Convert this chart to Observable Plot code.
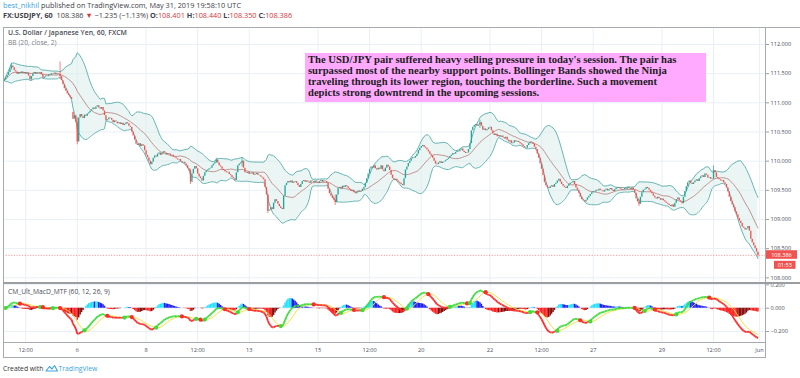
<!DOCTYPE html>
<html>
<head>
<meta charset="utf-8">
<script src="https://cdn.jsdelivr.net/npm/d3@7"></script>
<script src="https://cdn.jsdelivr.net/npm/@observablehq/plot@0.6"></script>
<style>
html,body{margin:0;padding:0;background:#fff;}
#wrap{position:relative;width:800px;height:378px;overflow:hidden;background:#fff;font-family:"Open Sans",sans-serif;color:#3d4048;}
.a{position:absolute;white-space:nowrap;line-height:1;}
.ln{position:absolute;background:#a7aaaf;}
.r{color:#d3383c;}
#main,#macd{position:absolute;left:0;}
#main{top:27px;}
#macd{top:283px;}
svg{overflow:visible;}
#note{position:absolute;left:305px;top:53px;width:395px;height:47px;background:#ffaaff;padding:1px 3px;font-family:"Liberation Serif",serif;font-weight:bold;font-size:10.6px;line-height:11.1px;color:#1c1c1c;white-space:nowrap;}
</style>
</head>
<body>
<div id="wrap">
  <div id="main"></div>
  <div id="macd"></div>
  <div class="ln" style="left:3px;top:27px;width:797px;height:1px;"></div>
  <div class="ln" style="left:3px;top:27px;width:1px;height:331px;"></div>
  <div class="ln" style="left:765px;top:27px;width:1px;height:331px;"></div>
  <div class="ln" style="left:3px;top:282px;width:797px;height:1.5px;background:#9a9da2;"></div>
  <div class="ln" style="left:3px;top:342px;width:762px;height:1px;"></div>
  <div class="ln" style="left:3px;top:357px;width:762px;height:1px;"></div>

  <div class="a" style="left:3px;top:2px;font-size:7.3px;"><span style="color:#3aa3df">best_nikhil</span> published on TradingView.com, May 31, 2019 19:58:10 UTC</div>
  <div class="a" style="left:3px;top:12px;font-size:7.3px;"><b>FX:USDJPY, 60</b>&nbsp; 108.386 <span class="r">&#9660;</span> &#8722;1.235 (&#8722;1.13%) <b>O:</b><span class="r">108.401</span> <b>H:</b><span class="r">108.440</span> <b>L:</b><span class="r">108.350</span> <b>C:</b><span class="r">108.386</span></div>
  <div class="a" style="left:8px;top:30px;font-size:6.9px;font-weight:600;color:#4a4d55;">U.S. Dollar / Japanese Yen, 60, FXCM</div>
  <div class="a" style="left:8px;top:39.5px;font-size:6.7px;color:#7a7d85;">BB (20, close, 2)</div>
  <div class="a" style="left:8px;top:288.5px;font-size:6.7px;color:#4a4d55;">CM_Ult_MacD_MTF (60, 12, 26, 9)</div>
  <div id="note">The USD/JPY pair suffered heavy selling pressure in today's session. The pair has<br>surpassed most of the nearby support points. Bollinger Bands showed the Ninja<br>traveling through its lower region, touching the borderline. Such a movement<br>depicts strong downtrend in the upcoming sessions.</div>
  <div class="a" style="left:3px;top:365.5px;font-size:6.8px;color:#333;">Created with</div>
  <svg class="a" style="left:45px;top:364px;" width="13" height="8" viewBox="0 0 13 8">
    <path d="M1 7 L4.5 2.5 L7 5 L9.5 1.5 L12.5 7 Z" fill="none" stroke="#3aa3df" stroke-width="1.1" stroke-linejoin="round"/>
  </svg>
  <div class="a" style="left:58.5px;top:365.5px;font-size:6.8px;color:#3aa3df;">TradingView</div>
</div>
<script>
// hourly closes, FX:USDJPY 60, bar 0 = May 2 21:00 UTC ... bar 526 = May 31 19:00 UTC
const closes = [
111.39,111.43,111.47,111.52,111.58,111.63,111.60,111.55,111.53,111.49,111.52,111.50,
111.53,111.50,111.52,111.49,111.51,111.46,111.39,111.45,111.50,111.52,111.49,111.51,
111.50,111.52,111.48,111.42,111.44,111.46,111.45,111.48,111.47,111.50,111.49,111.51,
111.48,111.50,111.49,111.45,111.38,111.31,111.24,111.20,111.15,111.12,111.09,111.06,
110.72,110.78,110.66,110.33,110.74,110.80,110.76,110.73,110.79,110.77,110.81,110.83,
110.86,110.88,110.91,110.89,110.93,110.95,110.91,110.89,110.92,110.86,110.78,110.69,
110.71,110.74,110.73,110.70,110.66,110.69,110.67,110.64,110.66,110.63,110.65,110.61,
110.63,110.66,110.64,110.60,110.58,110.50,110.43,110.36,110.29,110.27,110.30,110.25,
110.28,110.26,110.18,110.10,110.06,110.00,109.94,109.98,110.05,110.09,110.07,110.12,
110.14,110.10,110.13,110.16,110.14,110.11,110.13,110.12,110.09,110.10,110.07,110.06,
110.04,110.02,110.03,109.99,109.97,109.98,109.95,109.92,109.87,109.83,109.64,109.78,
109.86,109.91,109.87,109.78,109.73,109.70,109.66,109.74,109.80,109.83,109.85,109.87,
109.88,109.92,109.95,109.98,110.02,109.97,109.92,109.90,109.86,109.84,109.82,109.80,
109.81,109.77,109.75,109.72,109.70,109.67,109.80,109.92,109.95,109.97,110.00,109.88,
109.80,109.79,109.81,109.77,109.78,109.80,109.76,109.77,109.79,109.76,109.75,109.73,
109.71,109.68,109.55,109.42,109.14,109.16,109.20,109.17,109.28,109.34,109.31,109.26,
109.22,109.19,109.17,109.40,109.58,109.62,109.65,109.63,109.66,109.62,109.64,109.65,
109.62,109.58,109.55,109.60,109.65,109.67,109.64,109.66,109.64,109.62,109.66,109.65,
109.63,109.66,109.64,109.62,109.65,109.67,109.64,109.66,109.65,109.62,109.52,109.44,
109.40,109.36,109.33,109.29,109.42,109.53,109.55,109.52,109.57,109.55,109.58,109.56,
109.53,109.51,109.48,109.50,109.46,109.44,109.47,109.49,109.47,109.48,109.52,109.55,
109.62,109.70,109.78,109.86,109.90,109.88,109.92,109.87,109.85,109.88,109.86,109.92,
109.85,109.82,109.88,109.93,109.90,109.84,109.76,109.70,109.67,109.69,109.66,109.64,
109.62,109.60,109.58,109.70,109.85,109.90,109.96,110.00,110.04,110.06,110.05,110.08,
110.12,110.18,110.22,110.25,110.27,110.24,110.22,110.19,110.16,110.12,110.09,110.05,
110.00,109.95,109.94,109.97,109.99,109.96,109.98,109.99,110.01,110.03,110.05,110.08,
110.10,110.13,110.12,110.15,110.17,110.16,110.19,110.21,110.17,110.15,110.13,110.14,
110.20,110.30,110.52,110.58,110.61,110.63,110.60,110.62,110.66,110.60,110.53,110.55,
110.52,110.54,110.57,110.58,110.52,110.47,110.44,110.46,110.42,110.44,110.41,110.43,
110.40,110.38,110.41,110.36,110.33,110.35,110.30,110.31,110.35,110.33,110.34,110.32,
110.30,110.28,110.25,110.23,110.22,110.27,110.30,110.33,110.32,110.29,110.24,110.20,
110.12,110.05,109.95,109.86,109.75,109.63,109.58,109.55,109.53,109.56,109.58,109.55,
109.60,109.62,109.66,109.69,109.64,109.60,109.57,109.55,109.53,109.57,109.60,109.62,
109.63,109.65,109.60,109.54,109.50,109.45,109.38,109.34,109.32,109.30,109.33,109.37,
109.40,109.43,109.46,109.48,109.47,109.50,109.49,109.52,109.50,109.49,109.47,109.50,
109.52,109.49,109.51,109.53,109.50,109.48,109.51,109.53,109.55,109.54,109.52,109.50,
109.51,109.53,109.52,109.55,109.53,109.51,109.54,109.50,109.45,109.35,109.30,109.26,
109.38,109.46,109.50,109.52,109.55,109.53,109.50,109.47,109.44,109.40,109.37,109.35,
109.38,109.36,109.33,109.35,109.32,109.30,109.28,109.26,109.24,109.22,109.25,109.21,
109.28,109.34,109.37,109.32,109.30,109.27,109.38,109.48,109.56,109.63,109.66,109.62,
109.60,109.63,109.66,109.68,109.65,109.70,109.73,109.75,109.72,109.78,109.76,109.71,
109.72,109.69,109.70,109.84,109.80,109.72,109.70,109.68,109.66,109.67,109.63,109.60,
109.54,109.47,109.38,109.31,109.25,109.20,109.13,109.08,109.02,108.97,108.93,108.87,
108.85,108.82,108.84,108.88,108.80,108.66,108.60,108.55,108.50,108.44,108.386
];
const firstOpen = 111.36;
const openOverrides = [[48, 110.84]];            // Sunday gap open
const wicks = [                                   // [bar, low, high]
  [5,111.56,111.68],[39,111.40,111.70],[51,110.28,110.74],[130,109.60,109.86],
  [148,109.96,110.05],[166,109.90,110.05],[184,109.10,109.42],[231,109.24,109.42],
  [332,110.56,110.70],[443,109.22,109.34],[495,109.68,109.92],[526,108.35,108.44]
];
const timeTickBars   = [15, 51, 99, 135, 171, 219, 255, 291, 339, 375, 411, 459, 495, 527];
const timeTickLabels = ["12:00","6","8","12:00","13","15","12:00","20","22","12:00","27","29","12:00","Jun"];
const priceTicks = [108.0, 108.5, 109.0, 109.5, 110.0, 110.5, 111.0, 111.5, 112.0];
const macdTicks  = [-0.2, 0.0, 0.2];
const countdown = "01:53";

const UP = "#26a69a", DOWN = "#ef5350";
const GRID = "#eaeff5", AXIS_TXT = "#4a4e57";
const xDomain = [-0.49, 531.26];

// candles
const bars = closes.map((c, i) => {
  const ov = openOverrides.find(d => d[0] === i);
  const o = ov ? ov[1] : (i === 0 ? firstOpen : closes[i - 1]);
  return {i, o, c, col: c >= o ? UP : DOWN};
});
const wickRows = wicks.map(([i, lo, hi]) => ({i, lo, hi, col: bars[i].col}));

// Bollinger Bands (20, close, 2)
const bb = closes.map((c, i) => {
  const w = closes.slice(Math.max(0, i - 19), i + 1);
  const m = d3.mean(w);
  const sd = Math.sqrt(d3.mean(w, v => (v - m) ** 2));
  return {i, mid: m, hi: m + 2 * sd, lo: m - 2 * sd};
});

// MACD (12, 26, 9) as CM_Ult_MacD_MTF
function ema(arr, n) {
  const k = 2 / (n + 1); let e = arr[0];
  return arr.map((v, i) => (e = i === 0 ? v : v * k + e * (1 - k)));
}
const e12 = ema(closes, 12), e26 = ema(closes, 26);
const macd = closes.map((_, i) => e12[i] - e26[i]);
const signal = macd.map((_, i) => d3.mean(macd.slice(Math.max(0, i - 8), i + 1)));
const hist = macd.map((m, i) => m - signal[i]);
const LIME = "#3ddc3a", RED = "#ff2a2a";
const ind = closes.map((_, i) => {
  const h = hist[i], p = i > 0 ? hist[i - 1] : h;
  let hc = "#999";
  if (h > 0) hc = h > p ? "#22e0ff" : "#1c1cf0";
  else hc = h > p ? "#8a0d0d" : "#ff2020";
  return {i, m: macd[i], s: signal[i], h, hc, mc: macd[i] >= signal[i] ? LIME : RED};
});
const segs = ind.slice(1).map((d, k) => ({x1: ind[k].i, y1: ind[k].m, x2: d.i, y2: d.m, c: d.mc}));
const crosses = ind.filter((d, i) => i > 0 && Math.sign(hist[i]) !== Math.sign(hist[i - 1]) && hist[i] !== 0);

const labelMap = new Map(timeTickBars.map((b, k) => [b, timeTickLabels[k]]));
const last = closes[closes.length - 1];

const main = Plot.plot({
  width: 800, height: 256, marginTop: 0, marginBottom: 0, marginLeft: 3, marginRight: 35,
  style: {fontFamily: "Open Sans", fontSize: "5.6px", background: "transparent", overflow: "visible"},
  x: {type: "linear", domain: xDomain, axis: null},
  y: {domain: [107.9026, 112.2914], axis: null},
  color: {type: "identity"},
  marks: [
    Plot.gridX(timeTickBars, {stroke: GRID, strokeOpacity: 1}),
    Plot.gridY(priceTicks, {stroke: GRID, strokeOpacity: 1}),
    Plot.areaY(bb, {x: "i", y1: "lo", y2: "hi", fill: "#dcefed", fillOpacity: 0.6}),
    Plot.lineY(bb, {x: "i", y: "hi", stroke: "#56abaa", strokeWidth: 0.9}),
    Plot.lineY(bb, {x: "i", y: "lo", stroke: "#56abaa", strokeWidth: 0.9}),
    Plot.lineY(bb, {x: "i", y: "mid", stroke: "#b07370", strokeWidth: 0.75}),
    Plot.ruleY([last], {stroke: DOWN, strokeDasharray: "1.2,1.5", strokeWidth: 0.8, strokeOpacity: 0.75}),
    Plot.ruleX(wickRows, {x: "i", y1: "lo", y2: "hi", stroke: "col", strokeWidth: 0.7}),
    Plot.ruleX(bars, {x: "i", y1: "o", y2: "c", stroke: "col", strokeWidth: 1.35}),
    Plot.axisY(priceTicks, {anchor: "right", tickFormat: d3.format(".3f"), tickSize: 3, tickPadding: 2,
      stroke: "#9a9da3", fill: AXIS_TXT, fontSize: 5.6})
  ]
});
document.getElementById("main").appendChild(main);

// last price label + countdown, placed through the y scale
{
  const py = main.scale("y").apply(last);
  const svg = d3.select(main);
  const g = svg.append("g").attr("font-family", "Open Sans").attr("font-size", 5.6);
  g.append("rect").attr("x", 766).attr("y", py - 4.6).attr("width", 31).attr("height", 8.6).attr("fill", DOWN);
  g.append("text").attr("x", 781.5).attr("y", py).attr("dy", "0.35em").attr("text-anchor", "middle").attr("fill", "#fff").text(d3.format(".3f")(last));
  g.append("rect").attr("x", 774).attr("y", py + 6).attr("width", 21.5).attr("height", 8).attr("fill", DOWN);
  g.append("text").attr("x", 784.8).attr("y", py + 10).attr("dy", "0.35em").attr("text-anchor", "middle").attr("fill", "#fff").text(countdown);
}

const macdPlot = Plot.plot({
  width: 800, height: 74, marginTop: 0, marginBottom: 15, marginLeft: 3, marginRight: 35,
  style: {fontFamily: "Open Sans", fontSize: "5.6px", background: "transparent", overflow: "visible"},
  x: {type: "linear", domain: xDomain, axis: null},
  y: {domain: [-0.2944, 0.212], axis: null},
  color: {type: "identity"},
  marks: [
    Plot.gridX(timeTickBars, {stroke: GRID, strokeOpacity: 1}),
    Plot.gridY(macdTicks, {stroke: GRID, strokeOpacity: 1}),
    Plot.ruleX(ind, {x: "i", y1: 0, y2: "h", stroke: "hc", strokeWidth: 1.5}),
    Plot.lineY(ind, {x: "i", y: "s", stroke: "#f3e23c", strokeWidth: 1}),
    Plot.link(segs, {x1: "x1", y1: "y1", x2: "x2", y2: "y2", stroke: "c", strokeWidth: 1.8}),
    Plot.dot(crosses, {x: "i", y: "s", r: 2.1, fill: "mc", stroke: "none"}),
    Plot.axisY(macdTicks, {anchor: "right", tickFormat: d3.format(".3f"), tickSize: 3, tickPadding: 2,
      stroke: "#9a9da3", fill: AXIS_TXT, fontSize: 5.6}),
    Plot.axisX(timeTickBars, {anchor: "bottom", tickSize: 0, tickPadding: 5.5, tickFormat: d => labelMap.get(d),
      fill: AXIS_TXT, fontSize: 5.6})
  ]
});
document.getElementById("macd").appendChild(macdPlot);
</script>
</body>
</html>
